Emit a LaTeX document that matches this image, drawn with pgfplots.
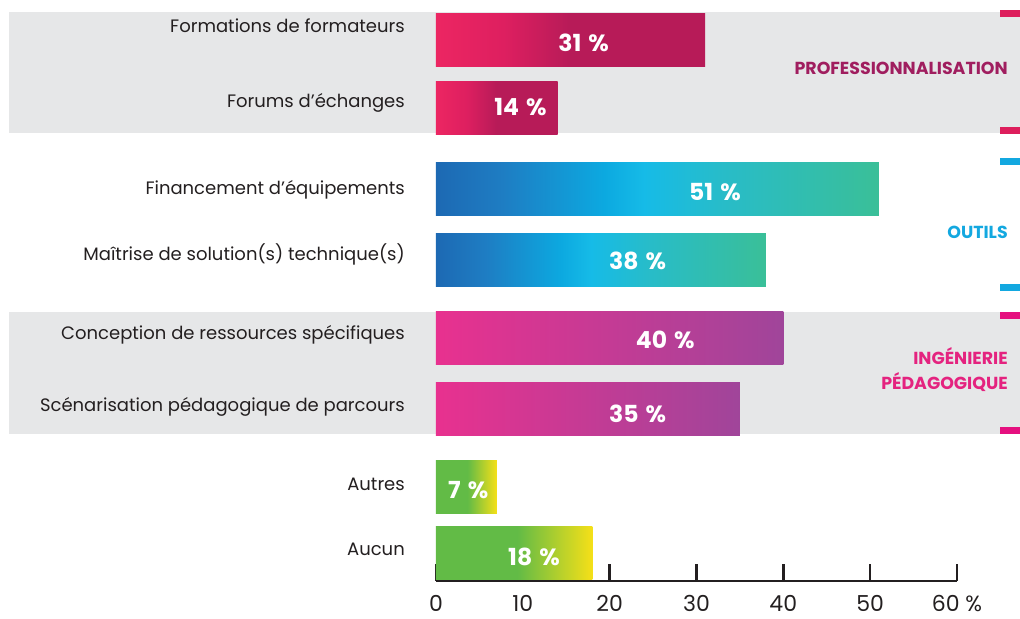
\documentclass[border=0pt]{standalone}
\usepackage{fontspec}
\setmainfont{Poppins}
\usepackage{pgfplots}
\pgfplotsset{compat=1.18}

\definecolor{bandgray}{RGB}{230,231,232}
\definecolor{axisgray}{RGB}{35,31,32}
\definecolor{labelgray}{RGB}{35,31,32}
\definecolor{profA}{RGB}{236,38,98}
\definecolor{profM}{RGB}{222,31,96}
\definecolor{profB}{RGB}{183,27,88}
\definecolor{profText}{RGB}{160,30,95}
\definecolor{profMark}{RGB}{221,30,92}
\definecolor{outA}{RGB}{29,105,179}
\definecolor{outB}{RGB}{30,125,195}
\definecolor{outC}{RGB}{12,169,224}
\definecolor{outD}{RGB}{22,187,231}
\definecolor{outE}{RGB}{40,188,200}
\definecolor{outF}{RGB}{58,191,152}
\definecolor{outText}{RGB}{19,168,224}
\definecolor{ingA}{RGB}{232,49,143}
\definecolor{ingB}{RGB}{160,69,154}
\definecolor{ingText}{RGB}{228,35,127}
\definecolor{ingMark}{RGB}{229,16,127}
\definecolor{grnA}{RGB}{98,187,70}
\definecolor{grnB}{RGB}{245,224,24}

\pgfdeclarehorizontalshading{profshade}{100bp}{color(0bp)=(profA); color(25bp)=(profA); color(37.5bp)=(profM); color(50bp)=(profB); color(100bp)=(profB)}
\pgfdeclarehorizontalshading{outshade}{100bp}{color(0bp)=(outA); color(25bp)=(outA); color(32.5bp)=(outB); color(44bp)=(outC); color(48.5bp)=(outD); color(57.5bp)=(outE); color(75bp)=(outF); color(100bp)=(outF)}
\pgfdeclarehorizontalshading{ingshade}{100bp}{color(0bp)=(ingA); color(25bp)=(ingA); color(75bp)=(ingB); color(100bp)=(ingB)}
\pgfdeclarehorizontalshading{grnshade}{100bp}{color(0bp)=(grnA); color(25bp)=(grnA); color(51bp)=(grnA); color(75bp)=(grnB); color(100bp)=(grnB)}

\begin{document}
\begin{tikzpicture}
\begin{axis}[
  scale only axis, width=521pt, height=581pt,
  xmin=0, xmax=60, ymin=-581, ymax=0,
  axis x line*=bottom, axis y line=none,
  x axis line style={line width=2.6pt, color=axisgray, -},
  xtick={0,10,20,30,40,50,60},
  xticklabels={0,10,20,30,40,50,60 \%},
  xtick align=inside, major tick length=17pt,
  tick style={line width=2.6pt, color=axisgray},
  xticklabel style={font=\fontsize{22}{22}\selectfont, text=axisgray, inner sep=0pt, anchor=base, yshift=-31pt},
  ytick=\empty,
  clip=false,
  mybar/.style={xbar, bar width=53pt, draw=none, shade, shading=#1},
]
% bounding box corners
\coordinate (BL) at (axis cs:-50.21,-619);
\coordinate (TR) at (axis cs:67.26,0);
% gray bands
\fill[bandgray] (axis cs:-49.17,-12) rectangle (axis cs:67.26,-133);
\fill[bandgray] (axis cs:-49.17,-312) rectangle (axis cs:67.26,-434);
% group markers
\fill[profMark] (axis cs:64.95,-10) rectangle (axis cs:67.26,-17);
\fill[profMark] (axis cs:64.95,-127) rectangle (axis cs:67.26,-134);
\fill[outText] (axis cs:64.95,-158) rectangle (axis cs:67.26,-165);
\fill[outText] (axis cs:64.95,-284.5) rectangle (axis cs:67.26,-291.5);
\fill[ingMark] (axis cs:64.95,-312.5) rectangle (axis cs:67.26,-319);
\fill[ingMark] (axis cs:64.95,-427.5) rectangle (axis cs:67.26,-434);

% bars (one plot per bar so each gets its own gradient)
\addplot[mybar=profshade] coordinates {(31,-40.5)};
\addplot[mybar=profshade] coordinates {(14,-108)};
\addplot[mybar=outshade] coordinates {(51,-189.3)};
\addplot[mybar=outshade] coordinates {(38,-259.8)};
\addplot[mybar=ingshade] coordinates {(40,-338.3)};
\addplot[mybar=ingshade] coordinates {(35,-409.2)};
\addplot[mybar=grnshade] coordinates {(7,-487.2)};
\addplot[mybar=grnshade] coordinates {(18,-552.8)};

% category labels
\begin{scope}[every node/.style={anchor=base east, font=\fontsize{18}{18}\selectfont, text=labelgray, inner sep=0pt}]
\node at (axis cs:-3.57,-33) {Formations de formateurs};
\node at (axis cs:-3.57,-107.3) {Forums d’échanges};
\node at (axis cs:-3.57,-195) {Financement d’équipements};
\node at (axis cs:-3.57,-261) {Maîtrise de solution(s) technique(s)};
\node at (axis cs:-3.57,-340) {Conception de ressources spécifiques};
\node at (axis cs:-3.57,-412) {Scénarisation pédagogique de parcours};
\node at (axis cs:-3.57,-491) {Autres};
\node at (axis cs:-3.57,-556) {Aucun};
\end{scope}

% value labels
\begin{scope}[every node/.style={anchor=center, font=\bfseries\fontsize{23.5}{23.5}\selectfont, text=white, inner sep=0pt}]
\node at (axis cs:17.0,-43) {31\hspace{0.3em}\%};
\node at (axis cs:9.73,-106.7) {14\hspace{0.3em}\%};
\node at (axis cs:32.13,-192) {51\hspace{0.3em}\%};
\node at (axis cs:23.23,-261) {38\hspace{0.3em}\%};
\node at (axis cs:26.41,-339.7) {40\hspace{0.3em}\%};
\node at (axis cs:23.23,-414) {35\hspace{0.3em}\%};
\node at (axis cs:3.72,-490) {7\hspace{0.3em}\%};
\node at (axis cs:11.29,-556.7) {18\hspace{0.3em}\%};
\end{scope}

% group labels
\begin{scope}[every node/.style={anchor=base east, font=\bfseries\fontsize{17.4}{17.4}\selectfont, inner sep=0pt}]
\node[text=profText] at (axis cs:65.87,-75) {PROFESSIONNALISATION};
\node[text=outText] at (axis cs:65.87,-238.3) {OUTILS};
\node[text=ingText] at (axis cs:65.87,-365) {INGÉNIERIE};
\node[text=ingText] at (axis cs:65.87,-390) {PÉDAGOGIQUE};
\end{scope}
\end{axis}
\pgfresetboundingbox
\path[use as bounding box] (BL) rectangle (TR);
\end{tikzpicture}
\end{document}
